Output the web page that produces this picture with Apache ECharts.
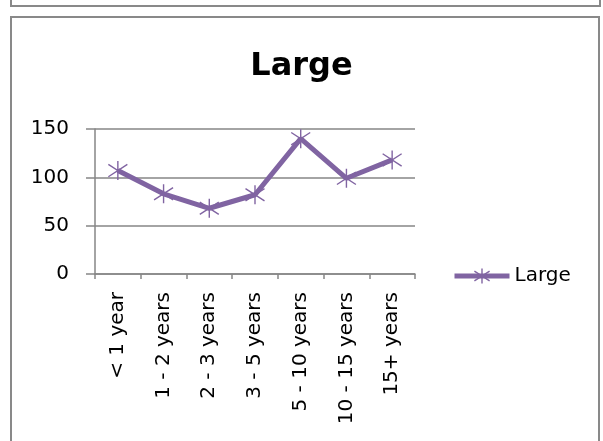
<!DOCTYPE html>
<html>
<head>
<meta charset="utf-8">
<script src="https://cdn.jsdelivr.net/npm/echarts@6/dist/echarts.min.js"></script>
<style>
  html, body { margin: 0; padding: 0; background: #fff; }
  #chart { width: 603px; height: 441px; }
</style>
</head>
<body>
<div id="chart"></div>
<script>
// Tenure buckets and counts for the "Large" group
const categories = ['< 1 year', '1 - 2 years', '2 - 3 years', '3 - 5 years', '5 - 10 years', '10 - 15 years', '15+ years'];
const largeValues = [107, 83, 68, 82, 140, 99, 118];
const seriesName = 'Large';
const chartTitle = 'Large';

const purple = '#8064A2';
const gridGray = '#868686';
const font = 'DejaVu Sans';
// asterisk marker: a vertical stroke crossed by an X
const starPath = 'path://M10,0L10,20M0.5,3.5L19.5,16.5M0.5,16.5L19.5,3.5';

const chart = echarts.init(document.getElementById('chart'), null, { renderer: 'canvas' });
chart.setOption({
  animation: false,
  backgroundColor: '#fff',
  title: {
    text: chartTitle,
    left: 'center',
    top: 46,
    textStyle: { fontFamily: font, fontWeight: 'bold', fontSize: 32, color: '#000' }
  },
  legend: {
    left: 447,
    top: 261,
    itemWidth: 55,
    itemHeight: 19,
    itemGap: 5,
    data: [{
      name: seriesName,
      lineStyle: { color: purple, width: 5 },
      itemStyle: { color: purple, borderColor: purple, borderWidth: 1.4 }
    }],
    textStyle: { fontFamily: font, fontSize: 20, color: '#000', padding: [0, 0, 0, 0] }
  },
  grid: { left: 95, right: 188, top: 129, bottom: 167 },
  xAxis: {
    type: 'category',
    data: categories,
    boundaryGap: true,
    axisLine: { lineStyle: { color: gridGray, width: 1.5 } },
    axisTick: { show: true, length: 5, alignWithLabel: false, lineStyle: { color: gridGray, width: 1.5 } },
    axisLabel: { rotate: 90, margin: 18, color: '#000', fontFamily: font, fontSize: 20, interval: 0 }
  },
  yAxis: {
    type: 'value',
    min: 0,
    max: 150,
    interval: 50,
    axisLine: { show: true, lineStyle: { color: gridGray, width: 1.5 } },
    axisTick: { show: true, length: 9, lineStyle: { color: gridGray, width: 1.5 } },
    axisLabel: { margin: 26, color: '#000', fontFamily: font, fontSize: 20 },
    splitLine: { show: true, lineStyle: { color: gridGray, width: 1.5 } }
  },
  series: [{
    name: seriesName,
    type: 'line',
    data: largeValues,
    symbol: starPath,
    symbolSize: 19,
    showSymbol: true,
    lineStyle: { color: purple, width: 5 },
    itemStyle: { color: purple, borderColor: purple, borderWidth: 1.4 }
  }],
  graphic: [
    { type: 'rect', shape: { x: 11, y: -10, width: 589, height: 16 },
      style: { fill: 'none', stroke: '#898989', lineWidth: 2 } },
    { type: 'rect', shape: { x: 11, y: 17, width: 588, height: 440 },
      style: { fill: 'none', stroke: '#898989', lineWidth: 2 } }
  ]
});
</script>
</body>
</html>
